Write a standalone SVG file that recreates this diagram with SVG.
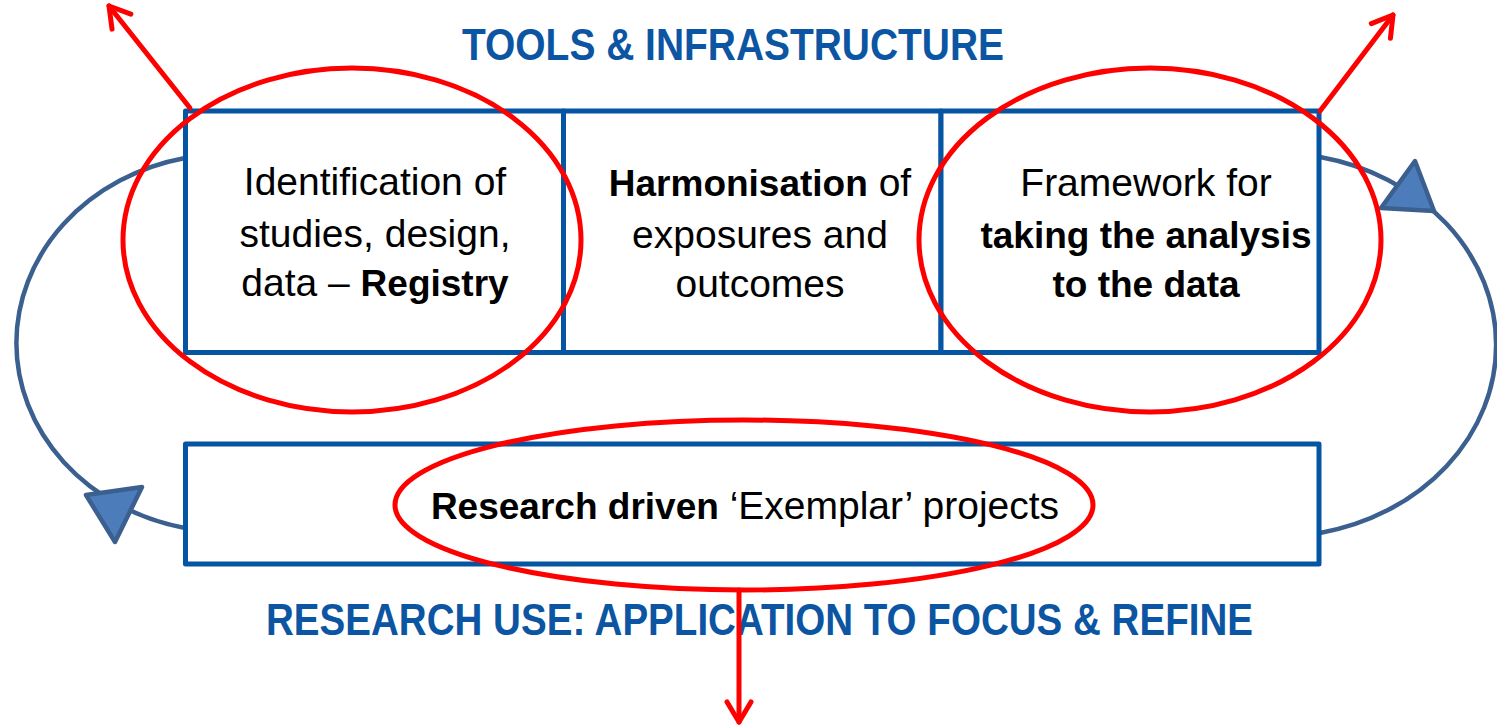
<svg xmlns="http://www.w3.org/2000/svg" width="1497" height="728" viewBox="0 0 1497 728">
  <style>
    .box { fill: #ffffff; stroke: #0555A2; stroke-width: 5; stroke-linejoin: round; }
    .body { font-family: "Liberation Sans", Arial, sans-serif; font-size: 39px; fill: #000000; text-anchor: middle; }
    .b { font-weight: bold; font-size: 37px; }
    .title { font-family: "Liberation Sans", Arial, sans-serif; font-size: 44px; font-weight: bold; fill: #0B55A3; }
    .loop { fill: none; stroke: #3B6090; stroke-width: 4.5; }
    .head { fill: #4C7DBA; stroke: #3B6090; stroke-width: 4.5; stroke-linejoin: round; }
    .ring { fill: none; stroke: #FF0000; stroke-width: 5; }
    .ray { fill: none; stroke: #FF0000; stroke-width: 5; stroke-linecap: round; }
  </style>
  <defs>
    <marker id="open-arrow" markerUnits="userSpaceOnUse" viewBox="-24 -16 28 32" markerWidth="28" markerHeight="32" refX="0" refY="0" orient="auto">
      <path d="M-20,-12 L0,0 L-20,12" fill="none" stroke="#FF0000" stroke-width="5" stroke-linecap="round" stroke-linejoin="round"/>
    </marker>
  </defs>

  <rect width="1497" height="728" fill="#ffffff"/>

  <!-- headings -->
  <text id="title-tools" class="title" x="462" y="60" textLength="542" lengthAdjust="spacingAndGlyphs">TOOLS &amp; INFRASTRUCTURE</text>
  <text id="title-research" class="title" x="266" y="635" textLength="987" lengthAdjust="spacingAndGlyphs">RESEARCH USE: APPLICATION TO FOCUS &amp; REFINE</text>

  <!-- cycle connectors -->
  <g id="connectors">
    <path class="loop" d="M185,158 A212,189 0 0 0 185,528"/>
    <path class="loop" d="M1320,157 A221,192 0 0 1 1320,533"/>
    <polygon class="head" points="86,495 142,487 115,542"/>
    <polygon class="head" points="1415,161 1381,208 1434,211"/>
  </g>

  <!-- top row -->
  <g id="node-registry">
    <rect class="box" x="185.5" y="111" width="378" height="241.5"/>
    <text class="body" x="375" y="195">Identification of</text>
    <text class="body" x="375" y="247">studies, design,</text>
    <text class="body" x="375" y="296">data – <tspan class="b">Registry</tspan></text>
  </g>
  <g id="node-harmonisation">
    <rect class="box" x="563.5" y="111" width="377.5" height="241.5"/>
    <text class="body" x="760" y="196"><tspan class="b">Harmonisation</tspan> of</text>
    <text class="body" x="760" y="248">exposures and</text>
    <text class="body" x="760" y="297">outcomes</text>
  </g>
  <g id="node-framework">
    <rect class="box" x="941" y="111" width="378" height="241.5"/>
    <text class="body" x="1146" y="196">Framework for</text>
    <text class="body b" x="1146" y="248">taking the analysis</text>
    <text class="body b" x="1146" y="297">to the data</text>
  </g>

  <!-- bottom row -->
  <g id="node-exemplar">
    <rect class="box" x="185.5" y="444" width="1133.5" height="120"/>
    <text class="body" x="745" y="519"><tspan class="b">Research driven</tspan> ‘Exemplar’ projects</text>
  </g>

  <!-- red highlight rings -->
  <g id="highlights">
    <ellipse class="ring" cx="352" cy="240" rx="229" ry="172"/>
    <ellipse class="ring" cx="1150" cy="240" rx="231" ry="172"/>
    <ellipse class="ring" cx="744" cy="505" rx="349" ry="85"/>
  </g>

  <!-- red pointers -->
  <g id="pointers">
    <line class="ray" x1="190" y1="108" x2="109" y2="6" marker-end="url(#open-arrow)"/>
    <line class="ray" x1="1320" y1="111" x2="1393" y2="15" marker-end="url(#open-arrow)"/>
    <line class="ray" x1="739" y1="590" x2="739" y2="722" marker-end="url(#open-arrow)"/>
  </g>
</svg>
